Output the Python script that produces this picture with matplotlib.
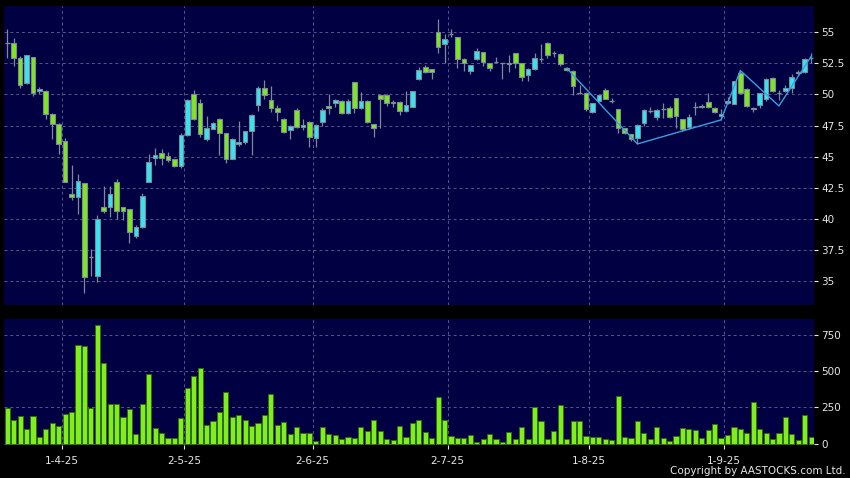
import numpy as np
import pandas as pd
import matplotlib
matplotlib.use("Agg")
import matplotlib.pyplot as plt

# trading days (HK calendar) 20-3-25 .. 19-9-25
holidays = ["2025-04-04", "2025-04-18", "2025-04-21", "2025-05-01", "2025-05-05", "2025-07-01"]
dates = pd.bdate_range("2025-03-20", "2025-09-19")
dates = dates[~dates.isin(pd.to_datetime(holidays))]

opens = [54.17, 54.17, 52.91, 50.9, 52.99, 50.25, 50.3, 48.47, 47.66, 46.3,
         42.0, 41.75, 42.87, 36.93, 35.43, 41.0, 40.94, 42.95, 41.0, 40.78,
         38.67, 39.34, 43.0, 44.88, 45.28, 45.07, 44.8, 44.29, 46.75, 50.02,
         49.3, 46.41, 47.26, 48.01, 46.89, 44.8, 46.0, 46.22, 47.05, 49.14,
         50.5, 49.57, 48.9, 48.01, 47.13, 48.76, 47.37, 47.82, 46.49, 47.77,
         49.08, 49.32, 49.51, 48.49, 50.98, 48.9, 49.51, 47.61, 49.94, 49.99,
         49.4, 49.38, 48.68, 49.03, 51.22, 52.19, 52.03, 55.0, 54.03, 54.86,
         54.6, 52.88, 51.92, 52.83, 53.39, 52.51, 52.6, 52.51, 52.45, 53.31,
         52.51, 51.54, 52.08, 52.83, 54.11, 53.31, 53.23, 52.16, 51.92, 50.15,
         50.1, 48.63, 49.46, 50.37, 49.51, 48.81, 47.29, 46.8, 46.49, 47.69,
         48.71, 48.22, 48.81, 48.94, 49.7, 48.01, 47.37, 48.97, 48.97, 49.43,
         48.95, 48.25, 49.3, 49.24, 51.7, 50.45, 48.81, 49.19, 49.62, 51.36,
         50.13, 50.29, 50.5, 51.7, 51.79, 52.94]
highs = [55.24, 54.5, 53.1, 53.2, 53.0, 50.6, 50.35, 48.5, 47.7, 46.5,
         44.35, 43.6, 42.9, 37.57, 40.3, 42.66, 42.66, 43.2, 41.0, 40.8,
         39.5, 42.07, 45.2, 45.68, 45.63, 45.36, 44.8, 46.9, 49.6, 50.37,
         49.6, 48.28, 47.8, 48.1, 46.9, 46.5, 47.88, 47.1, 48.4, 50.64,
         51.17, 50.7, 49.17, 48.1, 47.55, 48.9, 48.03, 47.9, 47.6, 48.9,
         50.05, 49.6, 49.55, 49.6, 51.0, 50.2, 49.55, 47.65, 50.0, 50.05,
         49.57, 49.45, 50.3, 50.3, 52.2, 52.37, 52.05, 56.04, 54.84, 55.24,
         54.65, 52.9, 52.4, 53.71, 53.4, 52.52, 53.04, 52.55, 53.18, 53.35,
         52.55, 52.1, 53.31, 54.03, 54.2, 53.45, 53.3, 52.2, 51.95, 50.77,
         50.2, 49.35, 50.05, 50.55, 49.7, 48.85, 47.3, 46.85, 47.6, 48.8,
         48.97, 48.8, 49.3, 49.08, 49.75, 48.05, 48.4, 49.43, 49.2, 50.1,
         49.0, 48.81, 49.8, 51.1, 51.9, 50.5, 49.0, 50.15, 51.35, 51.4,
         50.34, 50.77, 51.65, 51.95, 52.9, 53.31]
lows = [52.91, 52.3, 50.5, 50.8, 49.9, 50.0, 48.05, 46.45, 45.2, 42.95,
        41.53, 40.4, 34.1, 35.43, 34.97, 40.5, 40.2, 39.98, 39.93, 38.05,
        38.5, 39.3, 43.0, 44.3, 44.3, 44.6, 44.2, 44.08, 46.7, 47.96,
        46.6, 46.3, 47.2, 45.15, 44.48, 44.8, 45.9, 46.0, 45.15, 48.7,
        49.6, 48.63, 47.9, 46.9, 46.4, 47.3, 47.15, 45.82, 45.76, 47.47,
        48.44, 48.98, 48.4, 48.4, 48.49, 48.85, 47.7, 46.62, 47.29, 49.1,
        48.98, 48.36, 48.6, 49.0, 51.2, 51.7, 51.25, 53.36, 52.56, 54.65,
        52.16, 51.92, 51.68, 52.8, 52.32, 51.92, 52.5, 51.25, 51.79, 52.1,
        51.1, 51.11, 52.0, 52.64, 52.95, 53.04, 52.3, 51.9, 49.94, 50.0,
        48.7, 48.54, 49.4, 49.6, 49.3, 46.94, 46.8, 46.3, 46.05, 47.47,
        48.5, 47.96, 48.1, 48.1, 47.29, 47.1, 47.2, 48.36, 48.9, 48.9,
        48.5, 47.96, 49.2, 49.2, 50.0, 49.0, 48.63, 48.9, 49.5, 50.2,
        49.57, 50.2, 50.1, 51.6, 51.7, 52.51]
closes = [54.17, 52.91, 50.74, 53.15, 50.1, 50.4, 48.4, 47.66, 46.0, 43.0,
          41.75, 43.09, 35.32, 36.93, 40.03, 40.68, 42.0, 40.62, 40.62, 38.93,
          39.36, 41.85, 44.56, 45.15, 44.93, 44.75, 44.29, 46.75, 49.56, 48.06,
          46.8, 47.29, 47.69, 46.89, 44.8, 46.43, 46.16, 47.05, 48.33, 50.5,
          49.94, 48.9, 48.57, 47.02, 47.48, 47.37, 47.53, 46.57, 47.53, 48.76,
          48.9, 49.54, 48.49, 49.51, 48.9, 49.51, 47.77, 47.29, 49.62, 49.3,
          49.3, 48.68, 49.14, 50.26, 51.95, 51.81, 51.78, 53.79, 54.49, 54.86,
          52.88, 52.5, 52.35, 53.52, 52.59, 52.11, 52.6, 52.51, 52.56, 52.51,
          51.38, 52.08, 52.91, 52.83, 53.18, 53.31, 52.43, 51.97, 50.71, 50.15,
          48.81, 49.3, 49.99, 49.67, 49.51, 47.29, 46.89, 46.46, 47.53, 48.76,
          48.71, 48.76, 48.81, 48.22, 48.3, 47.21, 48.22, 48.97, 49.08, 48.97,
          48.6, 48.46, 49.46, 51.06, 50.1, 49.08, 48.95, 50.1, 51.28, 50.29,
          50.13, 50.5, 51.44, 51.84, 52.83, 52.94]
volumes = [248, 163, 189, 101, 191, 44, 101, 140, 122, 202,
           216, 679, 676, 244, 819, 554, 276, 274, 184, 239,
           64, 271, 478, 108, 74, 37, 41, 177, 384, 467,
           520, 129, 154, 216, 354, 184, 200, 163, 122, 143,
           198, 343, 131, 147, 67, 113, 74, 74, 18, 113,
           67, 58, 32, 48, 39, 117, 87, 166, 90, 32,
           25, 120, 44, 140, 161, 81, 39, 320, 163, 55,
           41, 41, 60, 9, 30, 67, 35, 9, 81, 30,
           113, 30, 255, 156, 30, 87, 269, 30, 156, 154,
           53, 44, 44, 35, 25, 329, 46, 39, 156, 74,
           30, 113, 37, 16, 53, 106, 104, 94, 37, 94,
           133, 39, 62, 115, 104, 71, 285, 101, 76, 35,
           74, 182, 64, 25, 198, 46]

# zigzag line (index into dates, price)
zz_idx = [87, 98, 111, 114, 120, 125]
zz_val = [52.1, 46.03, 47.96, 51.92, 49.08, 53.04]

price_ticks = [35, 37.5, 40, 42.5, 45, 47.5, 50, 52.5, 55]
vol_ticks = [0, 250, 500, 750]

BG = "#000042"
GREEN = "#7ee81e"
CYAN = "#36e4f0"
EDGE = "#7d8a98"
GRID = "#56568c"
TXT = "#e6e6e6"

o = np.array(opens); h = np.array(highs); l = np.array(lows); c = np.array(closes)
x = np.arange(len(dates))

# month start ticks
month = dates.month
first = [i for i in range(1, len(dates)) if month[i] != month[i - 1]]
tick_pos = [i + 0.5 for i in first]
tick_lab = [f"{dates[i].day}-{dates[i].month}-{dates[i].strftime('%y')}" for i in first]

fig = plt.figure(figsize=(8.5, 4.78), dpi=100, facecolor="black")
ax = fig.add_axes([4 / 850, 1 - 305 / 478, 810 / 850, 299 / 478])
axv = fig.add_axes([4 / 850, 1 - 444.5 / 478, 810 / 850, 125.5 / 478])

for a in (ax, axv):
    a.set_facecolor(BG)
    for s in a.spines.values():
        s.set_visible(False)
    a.set_xlim(-0.5, 125.45)
    a.grid(True, color=GRID, linestyle=(0, (3, 3)), linewidth=0.7)
    a.set_axisbelow(True)
    a.yaxis.tick_right()
    a.tick_params(axis="y", colors=TXT, labelsize=7.5, length=3, width=0.8, pad=2)
    a.set_xticks(tick_pos)

ax.tick_params(axis="x", length=0, labelbottom=False)
axv.set_xticklabels(tick_lab)
axv.tick_params(axis="x", colors=TXT, labelsize=7.5, length=3, width=0.8, pad=5)

# candles
up = c > o
down = c < o
flat = c == o
ax.vlines(x, l, h, color=EDGE, linewidth=0.9, zorder=2)
w = 0.72
ax.bar(x[up], (c - o)[up], bottom=o[up], width=w, color=CYAN, edgecolor=EDGE, linewidth=0.8, zorder=3)
ax.bar(x[down], (o - c)[down], bottom=c[down], width=w, color=GREEN, edgecolor=EDGE, linewidth=0.8, zorder=3)
ax.hlines(c[flat], x[flat] - w / 2, x[flat] + w / 2, color=EDGE, linewidth=1.0, zorder=3)
ax.plot(zz_idx, zz_val, color="#3a9fe0", linewidth=1.0, zorder=4)

ax.set_ylim(33.1, 57.1)
ax.set_yticks(price_ticks)
ax.set_yticklabels([f"{t:g}" for t in price_ticks])

axv.bar(x, volumes, width=0.8, color="#80ee1e", edgecolor="#2f6a10", linewidth=0.6, zorder=3)
axv.set_ylim(-5.5, 860)
axv.set_yticks(vol_ticks)

fig.text(846 / 850, 1 - 471 / 478, "Copyright by AASTOCKS.com Ltd.", color=TXT,
         fontsize=7.5, ha="right", va="center")

fig.savefig("out.png", dpi=100, facecolor="black")
